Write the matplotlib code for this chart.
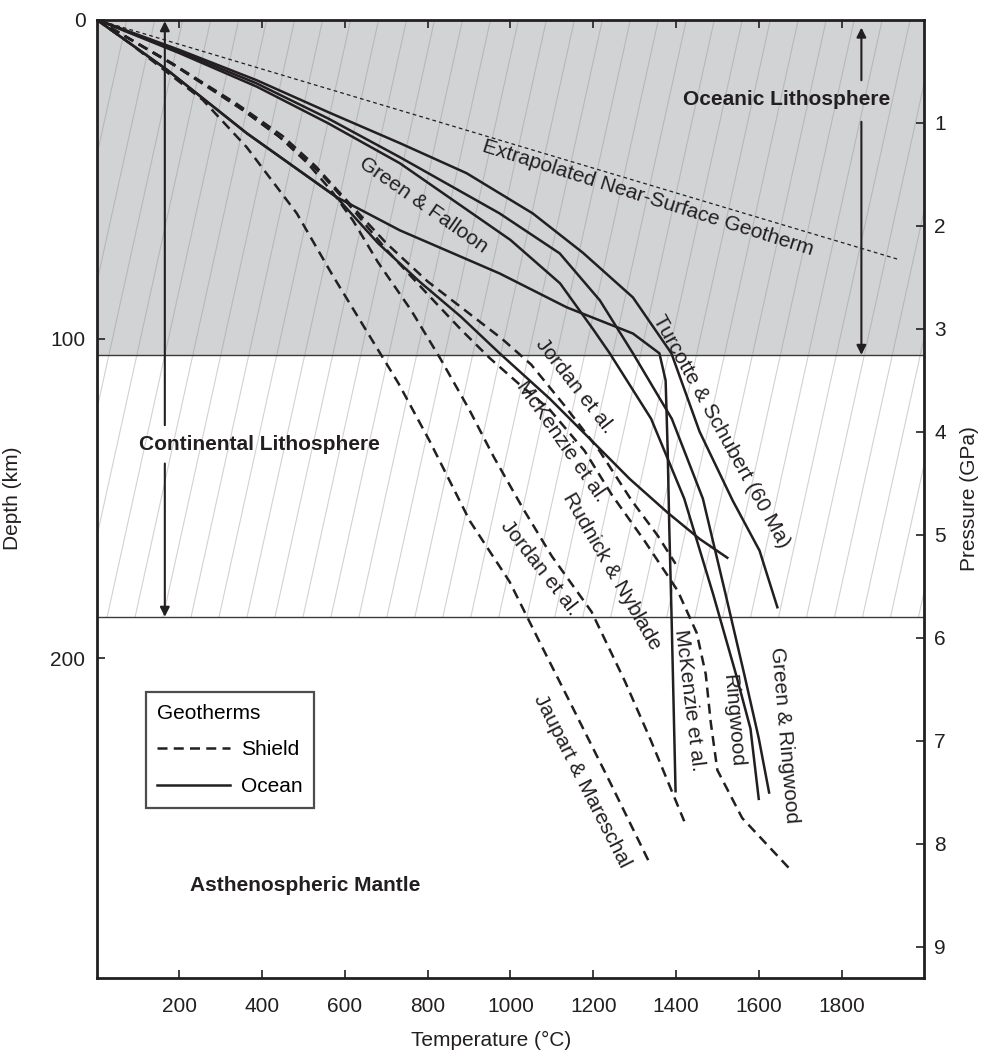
import numpy as np
import matplotlib
matplotlib.use('Agg')
import matplotlib.pyplot as plt
from matplotlib.lines import Line2D

plt.rcParams['font.family'] = ['Liberation Sans', 'DejaVu Sans']
plt.rcParams['font.size'] = 15
INK = '#231f20'

# ocean geotherms (solid), temperature (C) vs depth (km)
ts_T = [0, 200, 387, 560, 733, 894, 1054, 1175, 1296, 1389, 1457, 1537, 1602, 1645]
ts_z = [0, 9.5, 19, 29, 38.7, 48.1, 60.7, 73, 87, 104.5, 129, 150.6, 166.3, 184]

gr_T = [0, 200, 387, 560, 733, 974, 1119, 1216, 1296, 1390, 1465, 1520, 1565, 1600, 1625]
gr_z = [0, 10, 20, 31, 43.1, 60.7, 73.2, 87.9, 104.5, 125, 150, 180, 205, 225, 242]

rw_T = [0, 200, 387, 560, 733, 1000, 1120, 1200, 1240, 1340, 1420, 1490, 1545, 1580, 1600]
rw_z = [0, 10.5, 21, 32.5, 45, 69, 82.6, 97, 104.5, 125, 150, 180, 205, 222, 244]

mko_T = [0, 171, 363, 580, 733, 974, 1136, 1296, 1360, 1375, 1380, 1384, 1389, 1394, 1399]
mko_z = [0, 15.8, 35.6, 55.6, 66, 79.5, 90.1, 98.3, 104.5, 113, 135, 160, 185, 213, 241.6]

jo_T = [0, 171, 363, 580, 680, 780, 880, 974, 1095, 1196, 1288, 1380, 1457, 1524]
jo_z = [0, 15.8, 35.6, 55.6, 70, 82, 93, 104.5, 118.7, 131.8, 143.8, 154.4, 162.6, 168.5]

# shield geotherms (dashed)
jm_T = [0, 81, 257, 363, 484, 570, 650, 730, 805, 902, 998, 1071, 1143, 1240, 1336]
jm_z = [0, 7.5, 25.2, 40, 60.7, 80, 97, 114, 132, 157, 176, 195, 213.5, 238.6, 264]

js_T = [0, 194, 354, 440, 510, 570, 620, 680, 760, 830, 900, 960, 1030, 1100, 1196, 1276, 1340,
        1390, 1420]
js_z = [0, 14.8, 28.4, 36.5, 45, 54, 63, 76, 91, 106, 122, 137, 153, 168, 185.4, 207, 225.9,
        241.6, 251]

mks_T = [0, 180, 340, 450, 530, 600, 700, 800, 900, 980, 1050, 1131, 1215, 1293, 1356, 1399]
mks_z = [0, 13.5, 26.5, 36.5, 46, 56, 70, 82, 92, 100, 108, 120.9, 135, 150.6, 161.6, 170.4]

rn_T = [0, 185, 345, 455, 540, 610, 700, 800, 880, 950, 1020, 1094, 1179, 1245, 1324, 1404,
        1450, 1472, 1484, 1500, 1560, 1679]
rn_z = [0, 14, 27.5, 38, 48, 58, 72, 86, 97, 106, 114, 122, 135, 148.8, 163.2, 178.8, 192,
        205, 220, 235, 250, 266.5]

ex_T = [0, 1935]
ex_z = [0, 75]

ocean_base = 105
cont_base = 187
km_per_gpa = 32.25

fig = plt.figure(figsize=(9.81, 10.51), dpi=100)
ax = fig.add_axes([0.0984, 0.0697, 0.8438, 0.9117])
ax.set_xlim(0, 2000)
ax.set_ylim(300, 0)

# shaded oceanic lithosphere and hatched continental lithosphere
ax.axhspan(0, ocean_base, color='#d1d3d4', zorder=0, lw=0)
for t0 in np.arange(-400, 2400, 67.6):
    ax.plot([t0, t0 - 1.7 * ocean_base], [0, ocean_base], color='#b6b8ba', lw=0.8, zorder=0.5)
    ax.plot([t0 - 1.7 * ocean_base, t0 - 1.7 * cont_base], [ocean_base, cont_base],
            color='#d2d2d2', lw=0.8, zorder=0.5)
ax.axhline(ocean_base, color='#3a3a3a', lw=1.0, zorder=1)
ax.axhline(cont_base, color='#3a3a3a', lw=1.0, zorder=1)

lw = 1.8
dash = (0, (4, 2.5))
for T, z in [(ts_T, ts_z), (gr_T, gr_z), (rw_T, rw_z), (mko_T, mko_z), (jo_T, jo_z)]:
    ax.plot(T, z, color=INK, lw=lw, zorder=3)
for T, z in [(jm_T, jm_z), (js_T, js_z), (mks_T, mks_z), (rn_T, rn_z)]:
    ax.plot(T, z, color=INK, lw=lw, ls=dash, zorder=3)
ax.plot(ex_T, ex_z, color=INK, lw=0.9, ls=(0, (3, 2.5)), zorder=3)

# curve labels
lab = dict(color=INK, ha='center', va='center', rotation_mode='anchor')
ax.text(1331, 56, 'Extrapolated Near-Surface Geotherm', rotation=-17.5, **lab)
ax.text(791, 58, 'Green & Falloon', rotation=-35, **lab)
ax.text(1510, 129, 'Turcotte & Schubert (60 Ma)', rotation=-61, **lab)
ax.text(1155, 114.6, 'Jordan et al.', rotation=-52, **lab)
ax.text(1124, 132, 'McKenzie et al.', rotation=-55, **lab)
ax.text(1244, 172.6, 'Rudnick & Nyblade', rotation=-60, **lab)
ax.text(1071, 171.6, 'Jordan et al.', rotation=-52, **lab)
ax.text(1172, 238.5, 'Jaupart & Mareschal', rotation=-63, **lab)
ax.text(1433, 213, 'McKenzie et al.', rotation=-83, **lab)
ax.text(1537, 219.6, 'Ringwood', rotation=-85, **lab)
ax.text(1662, 224, 'Green & Ringwood', rotation=-85, **lab)

# region labels and arrows
ax.text(1917, 25, 'Oceanic Lithosphere', fontweight='bold', ha='right', va='center', color=INK)
ax.text(393, 133, 'Continental Lithosphere', fontweight='bold', ha='center', va='center', color=INK)
ax.text(503, 271, 'Asthenospheric Mantle', fontweight='bold', ha='center', va='center', color=INK)

arr = dict(arrowstyle='-|>', color=INK, lw=1.5, mutation_scale=14, shrinkA=0, shrinkB=0)
ax.annotate('', xy=(165, 0.5), xytext=(165, 127), arrowprops=arr)
ax.annotate('', xy=(165, cont_base), xytext=(165, 139), arrowprops=arr)
ax.annotate('', xy=(1848, 2.5), xytext=(1848, 19), arrowprops=arr)
ax.annotate('', xy=(1848, ocean_base), xytext=(1848, 32), arrowprops=arr)

# legend
handles = [Line2D([], [], color=INK, lw=lw, ls=dash), Line2D([], [], color=INK, lw=lw)]
leg = ax.legend(handles, ['Shield', 'Ocean'], title='Geotherms', loc='upper left',
                bbox_to_anchor=(0.0598, 0.298), borderaxespad=0, frameon=True, fancybox=False,
                edgecolor=INK, handlelength=3.5, handletextpad=0.5, labelspacing=0.85,
                borderpad=0.55, alignment='left', fontsize=15, title_fontsize=15)
leg.get_frame().set_linewidth(1.6)

ax.set_xticks([200, 400, 600, 800, 1000, 1200, 1400, 1600, 1800])
ax.set_yticks([0, 100, 200])
ax.tick_params(direction='in', length=5.5, width=1.2, top=True, colors=INK, pad=8)
ax.tick_params(axis='x', pad=14)
for s in ax.spines.values():
    s.set_linewidth(2.0)
    s.set_color(INK)
ax.set_xlabel('Temperature (°C)', color=INK)
ax.xaxis.set_label_coords(0.477, -0.055)
ax.set_ylabel('Depth (km)', color=INK)
ax.yaxis.set_label_coords(-0.09, 0.5)

ax2 = ax.twinx()
ax2.set_ylim(300 / km_per_gpa, 0)
ax2.set_yticks(range(1, 10))
ax2.tick_params(direction='in', length=5.5, width=1.2, colors=INK, pad=7)
for s in ax2.spines.values():
    s.set_visible(False)
ax2.set_ylabel('Pressure (GPa)', color=INK)
ax2.yaxis.set_label_coords(1.043, 0.5)

fig.savefig('out.png', dpi=100)
